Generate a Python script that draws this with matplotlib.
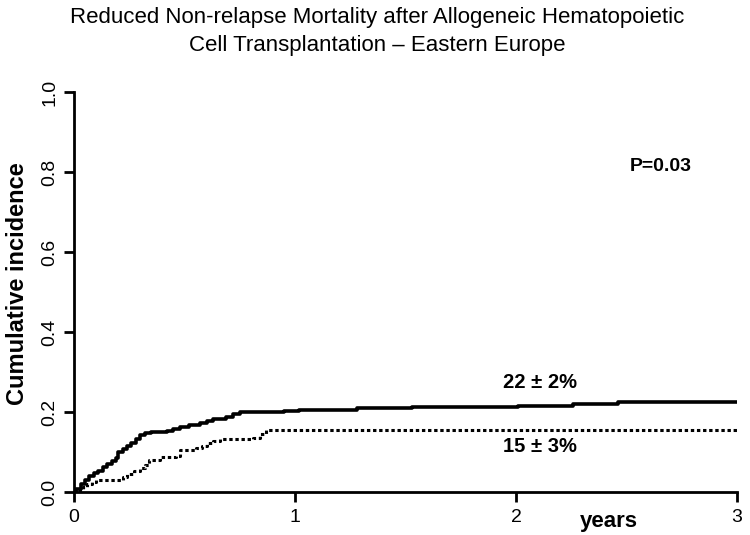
import matplotlib.pyplot as plt

# cumulative incidence curves (years, fraction)
solid_t = [0.0, 0.01, 0.03, 0.05, 0.07, 0.09, 0.11, 0.13, 0.15, 0.17, 0.19, 0.2,
           0.22, 0.24, 0.26, 0.28, 0.30, 0.32, 0.35, 0.42, 0.45, 0.48, 0.52, 0.57,
           0.60, 0.63, 0.69, 0.72, 0.75, 0.95, 1.02, 1.28, 1.53, 2.01, 2.26, 2.46, 3.0]
solid_y = [0.0, 0.008, 0.02, 0.03, 0.04, 0.047, 0.053, 0.062, 0.07, 0.077, 0.085, 0.10,
           0.108, 0.115, 0.123, 0.133, 0.142, 0.147, 0.151, 0.152, 0.158, 0.163, 0.167, 0.172,
           0.177, 0.182, 0.187, 0.194, 0.201, 0.203, 0.206, 0.209, 0.212, 0.215, 0.220, 0.225, 0.225]

dotted_t = [0.0, 0.02, 0.04, 0.06, 0.08, 0.1, 0.2, 0.22, 0.24, 0.27, 0.30, 0.32,
            0.34, 0.39, 0.46, 0.48, 0.55, 0.58, 0.60, 0.63, 0.66, 0.81, 0.84, 0.87, 3.0]
dotted_y = [0.0, 0.006, 0.013, 0.02, 0.025, 0.029, 0.029, 0.037, 0.044, 0.053, 0.06, 0.067,
            0.081, 0.088, 0.089, 0.106, 0.11, 0.116, 0.122, 0.127, 0.132, 0.135, 0.146, 0.156, 0.156]

x_ticks = [0, 1, 2, 3]
y_ticks = [0.0, 0.2, 0.4, 0.6, 0.8, 1.0]

plt.rcParams['font.family'] = ['Liberation Sans', 'DejaVu Sans']

fig = plt.figure(figsize=(7.5, 5.35), dpi=100)
ax = fig.add_axes([74 / 750, 1 - 492 / 535, 663 / 750, 400 / 535])

ax.plot(solid_t, solid_y, drawstyle='steps-post', color='black', lw=2.6)
ax.plot(dotted_t, dotted_y, drawstyle='steps-post', color='black', lw=2.2,
        linestyle=(0, (1.1, 0.9)))

ax.set_xlim(0, 3)
ax.set_ylim(0, 1)
ax.spines['top'].set_visible(False)
ax.spines['right'].set_visible(False)
for s in ['left', 'bottom']:
    ax.spines[s].set_linewidth(2)
ax.set_xticks(x_ticks)
ax.set_xticklabels([str(v) for v in x_ticks])
ax.set_yticks(y_ticks)
ax.set_yticklabels([f"{v:.1f}" for v in y_ticks], rotation=90, va='center')
ax.tick_params(axis='both', length=7, width=2, labelsize=14, color='black')
ax.tick_params(axis='x', pad=5)
ax.tick_params(axis='y', pad=4)

ax.set_ylabel("Cumulative incidence", fontsize=17, fontweight='bold')
ax.yaxis.set_label_coords(-0.068, 0.52)
ax.text(2.42, -0.075, "years", fontsize=16, fontweight='bold', ha='center', va='center')
ax.text(2.656, 0.815, "P=0.03", fontsize=14, fontweight='bold', ha='center', va='center')
ax.text(2.11, 0.275, "22 \u00b1 2%", fontsize=14.5, fontweight='bold', ha='center', va='center')
ax.text(2.11, 0.113, "15 \u00b1 3%", fontsize=14.5, fontweight='bold', ha='center', va='center')

fig.text(377 / 750, 1 - 18 / 535, "Reduced Non-relapse Mortality after Allogeneic Hematopoietic",
         ha='center', va='center', fontsize=16)
fig.text(377 / 750, 1 - 45 / 535, "Cell Transplantation \u2013 Eastern Europe",
         ha='center', va='center', fontsize=16)

fig.savefig("out.png", dpi=100)
